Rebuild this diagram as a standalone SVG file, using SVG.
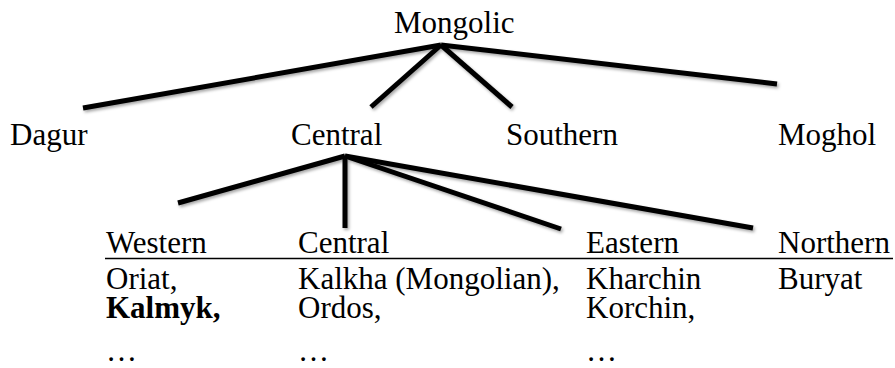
<svg xmlns="http://www.w3.org/2000/svg" width="895" height="368" viewBox="0 0 895 368">
<defs>
<filter id="sh" x="-10%" y="-50%" width="120%" height="200%">
<feDropShadow dx="1.5" dy="2" stdDeviation="1.5" flood-color="#000" flood-opacity="0.35"/>
</filter>
</defs>
<style>
text{font-size:31px;fill:#000}
.b{font-weight:bold}
.e{stroke:#000;stroke-width:5;stroke-linecap:butt;fill:none}
.rule{stroke:#000;stroke-width:1.4}
</style>
<rect width="895" height="368" fill="#fff"/>
<g id="connectors" filter="url(#sh)">
<line class="e" x1="441" y1="45" x2="83" y2="108"/>
<line class="e" x1="441" y1="45" x2="371" y2="107"/>
<line class="e" x1="441" y1="45" x2="512" y2="107"/>
<line class="e" x1="441" y1="45" x2="777" y2="84"/>
<line class="e" x1="345" y1="156" x2="178" y2="203"/>
<line class="e" x1="345" y1="156" x2="345" y2="228"/>
<line class="e" x1="345" y1="156" x2="561" y2="229"/>
<line class="e" x1="345" y1="156" x2="753" y2="228"/>
</g>
<g id="mongolic"><text font-family="Times New Roman, Liberation Serif, Tinos, Noto Serif, DejaVu Serif, serif" x="394" y="33">Mongolic</text></g>
<g id="dagur"><text font-family="Liberation Serif, serif" x="10" y="145">Dagur</text></g>
<g id="central"><text font-family="Liberation Serif, serif" x="291" y="145">Central</text></g>
<g id="southern"><text font-family="Liberation Serif, serif" x="506" y="145">Southern</text></g>
<g id="moghol"><text font-family="Liberation Serif, serif" x="778" y="145">Moghol</text></g>
<line class="rule" x1="105" y1="258.5" x2="893" y2="258.5"/>
<g id="western" font-family="Liberation Serif, serif">
<text x="106" y="253">Western</text>
<text x="106" y="289">Oriat,</text>
<text class="b" x="106" y="318">Kalmyk,</text>
<text x="106" y="361">…</text>
</g>
<g id="central-sub" font-family="Liberation Serif, serif">
<text x="298" y="253">Central</text>
<text x="298" y="289">Kalkha (Mongolian),</text>
<text x="298" y="318">Ordos,</text>
<text x="298" y="361">…</text>
</g>
<g id="eastern" font-family="Liberation Serif, serif">
<text x="586" y="253">Eastern</text>
<text x="586" y="289">Kharchin</text>
<text x="586" y="318">Korchin,</text>
<text x="586" y="361">…</text>
</g>
<g id="northern" font-family="Liberation Serif, serif">
<text x="778" y="253">Northern</text>
<text x="778" y="289">Buryat</text>
</g>
</svg>
